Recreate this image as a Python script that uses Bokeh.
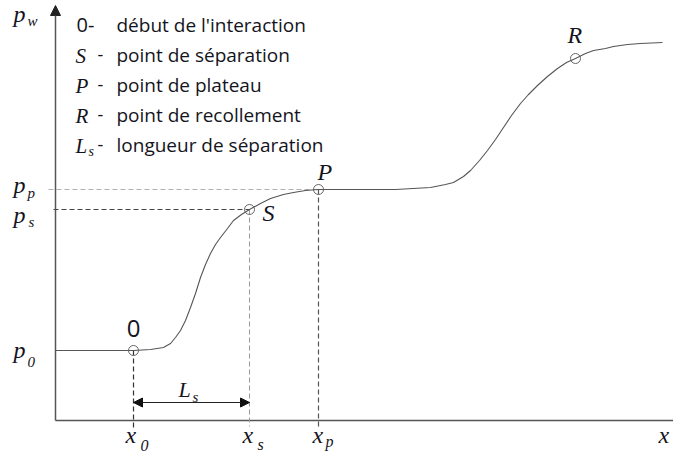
from bokeh.plotting import figure
from bokeh.models import Range1d, Arrow, NormalHead, ColumnDataSource
from bokeh.core.properties import value
from bokeh.embed import file_html
from bokeh.resources import INLINE

# Characteristic abscissae and wall pressures of the interaction
x0, xs, xp = 78, 194, 263
p0, ps, pp = 70, 211, 231
xr, pr = 520, 362
x_end = 618

# Wall pressure distribution p_w(x)
curve_x = [0, 78, 95, 108, 115, 120, 125, 130, 135, 140, 145, 150, 155, 160,
           165, 172, 178, 186, 194, 205, 215, 228, 238, 250, 263, 300, 340,
           375, 390, 398, 408, 415, 424, 432, 440, 448, 456, 465, 473, 482,
           492, 502, 511, 520, 530, 538, 550, 558, 572, 585, 607]
curve_y = [70, 70, 71, 73, 77, 83, 90, 100, 113, 127, 143, 156, 167, 176,
           183, 192, 200, 206, 211, 217, 222, 226, 228, 230, 231, 231, 231,
           233, 236, 238, 244, 250, 260, 270, 281, 293, 305, 317, 326, 335,
           344, 352, 358, 362, 367, 370, 372, 374, 376, 377, 378]

# Legend entries
legend_keys = ["S", "P", "R", "L"]
legend_texts = ["début de l'interaction", "point de séparation",
                "point de plateau", "point de recollement",
                "longueur de séparation"]

SERIF = value("Liberation Serif")
SANS = value("Open Sans")
INK = "#141420"
LINE = "#555555"

p = figure(width=673, height=453, x_range=Range1d(-55, 618),
           y_range=Range1d(-33, 420), min_border=0, toolbar_location=None,
           output_backend="svg", x_axis_type=None, y_axis_type=None,
           outline_line_color=None, background_fill_color="white",
           border_fill_color="white")
p.xgrid.visible = False
p.ygrid.visible = False

# Axes: y with an arrow head, x plain
p.add_layout(Arrow(end=NormalHead(size=10, fill_color="#222", line_color="#222"),
                   x_start=0, y_start=0, x_end=0, y_end=415,
                   line_color=LINE, line_width=1.5))
p.segment(x0=[0], y0=[0], x1=[x_end], y1=[0], line_color=LINE, line_width=1.5)

# Dashed reference lines
p.segment(x0=[-7], y0=[pp], x1=[xp], y1=[pp], line_color="#b0b0b0",
          line_width=1, line_dash="5 3")
p.segment(x0=[-2], y0=[ps], x1=[xs], y1=[ps], line_color="#444444",
          line_width=1.2, line_dash="5 3")
p.segment(x0=[x0], y0=[p0], x1=[x0], y1=[-10], line_color="#333333",
          line_width=1.2, line_dash="5 3")
p.segment(x0=[xs], y0=[ps], x1=[xs], y1=[-6], line_color="#999999",
          line_width=1, line_dash="5 3")
p.segment(x0=[xp], y0=[pp], x1=[xp], y1=[-8], line_color="#555555",
          line_width=1.2, line_dash="5 3")

# Pressure curve and characteristic points
p.line(curve_x, curve_y, line_color="#555555", line_width=1.1)
p.scatter([x0, xs, xp, xr], [p0, ps, pp, pr], marker="circle", size=10,
          fill_color=None, line_color="#666666", line_width=1)

# Separation length
p.add_layout(Arrow(start=NormalHead(size=9, fill_color="#111", line_color="#111"),
                   end=NormalHead(size=9, fill_color="#111", line_color="#111"),
                   x_start=x0, y_start=18, x_end=xs, y_end=18,
                   line_color="#222", line_width=1.2))


def put(xv, yv, texts, font, size, style="italic", align="left"):
    src = ColumnDataSource(dict(x=xv, y=yv, t=texts))
    p.text(x="x", y="y", text="t", source=src, text_font=font,
           text_font_size=size, text_font_style=style, text_align=align,
           text_baseline="alphabetic", text_color=INK)


# Axis symbols
put([-42, -42, -42, -42], [407, 236, 206, 71], ["p", "p", "p", "p"], SERIF, "24px")
put([-28, -28, -27, -28], [400, 228, 199, 59], ["w", "p", "s", "0"], SERIF, "15px")
put([x0 - 8, xs - 7, xp - 6, 603], [-14, -14, -14, -14], ["x", "x", "x", "x"], SERIF, "24px")
put([x0 + 7, xs + 8, xp + 7], [-25, -24, -21], ["0", "s", "p"], SERIF, "16px")

# Point labels
put([x0], [p0 + 22], ["0"], SANS, "24px", style="normal", align="center")
put([xs + 13, xp - 1, xr - 8], [ps - 3, pp + 18, pr + 24], ["S", "P", "R"], SERIF, "24px")
put([(x0 + xs) / 2 - 13], [31], ["L"], SERIF, "22px")
put([(x0 + xs) / 2 + 1], [24], ["s"], SERIF, "15px")

# Legend block
rows = [387, 357, 327, 297, 267]
put([21], [rows[0] + 9], ["0-"], SANS, "20px", style="normal")
put([20] * 4, [r + 8 for r in rows[1:]], legend_keys, SERIF, "21px")
put([33], [rows[4] + 2], ["s"], SERIF, "14px")
put([42] * 4, [r + 9 for r in rows[1:]], ["-"] * 4, SANS, "18px", style="normal")
put([61] * 5, [r + 9 for r in rows], legend_texts, SANS, "19px", style="normal")

open("out.html", "w").write(file_html(p, INLINE))
